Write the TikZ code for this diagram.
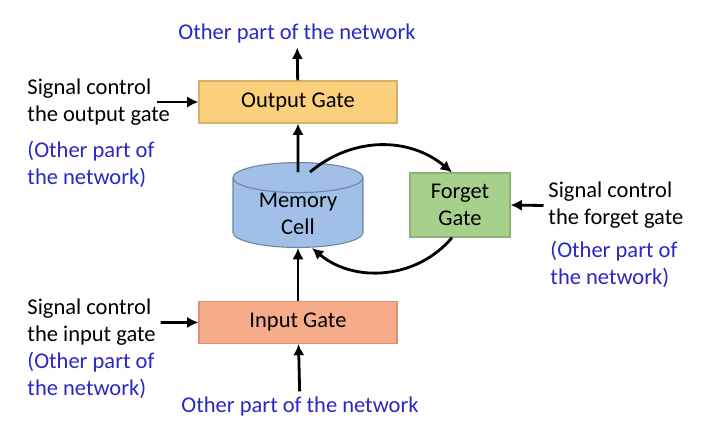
\documentclass[tikz,border=0pt]{standalone}
\usepackage{fontspec}
\setmainfont{Carlito}
\usetikzlibrary{arrows.meta,shapes.geometric}

\definecolor{netblue}{RGB}{40,40,195}
\definecolor{outfill}{RGB}{250,208,125}
\definecolor{infill}{RGB}{246,172,138}
\definecolor{fgfill}{RGB}{168,208,141}
\definecolor{memfill}{RGB}{160,192,232}

\tikzset{
	every node/.style = {font=\fontsize{16}{19.2}\selectfont},
	gate/.style = {rectangle, draw=#1!85!black, fill=#1, line width=0.8pt,
		minimum width=4.95cm, minimum height=1.05cm},
	cyl/.style = {cylinder, shape border rotate=90, aspect=3.2, draw=memfill!70!black,
		fill=memfill, line width=0.8pt, minimum width=3.25cm, minimum height=2.12cm},
	side/.style = {anchor=west, align=left},
	blue/.style = {side, text=netblue},
	arr/.style = {-{Latex[length=8pt,width=8pt]}, line width=2pt}
}

\begin{document}
\begin{tikzpicture}[x=0.025cm, y=0.025cm]
		\useasboundingbox (0,0) rectangle (705,-430);
		\node (outg) [gate=outfill] at (298,-102) {Output Gate};
		\node (mem) [cyl, anchor=south, label={[align=center, yshift=0.05cm]center:Memory\\Cell}] at (298,-248) {};
		\node (ing) [gate=infill, node distance = 5.51cm] [below of = outg] {Input Gate};
		\node (fg) [gate=fgfill, minimum width=2.5cm, minimum height=1.6cm, align=center] at (460,-205) {Forget\\Gate};
		\node (nettop) [text=netblue] at (297,-33) {Other part of the network};
		\node (netbot) [text=netblue] at (300,-406) {Other part of the network};
		\node (sigout) [side] at (22.5,-102) {Signal control\\the output gate};
		\node (netout) [blue] at (22.5,-164.5) {(Other part of\\the network)};
		\node (sigin) [side] at (22.5,-322.5) {Signal control\\the input gate};
		\node (netin) [blue] at (22.5,-375) {(Other part of\\the network)};
		\node (sigfg) [side] at (543.5,-205.5) {Signal control\\the forget gate};
		\node (netfg) [blue] at (545.5,-264.5) {(Other part of\\the network)};
		\draw[arr] (outg) -- (nettop);
		\draw[arr, shorten <=-0.25cm] (mem.north) -- (outg.south);
		\draw[arr] (ing) -- (mem.south);
		\draw[arr] (netbot) -- (ing);
		\draw[arr] ([xshift=-0.45cm]sigout.east) -- (outg.west);
		\draw[arr] (sigin.east) -- (ing.west);
		\draw[arr] (sigfg.west) -- (fg.east);
		\draw[arr] ([xshift=0.3cm,yshift=-0.25cm]mem.north) to[out=40,in=140] ([xshift=-0.2cm]fg.north);
		\draw[arr] ([xshift=-0.2cm]fg.south) to[out=-130,in=-40] ([xshift=0.35cm]mem.south);
\end{tikzpicture}
\end{document}
